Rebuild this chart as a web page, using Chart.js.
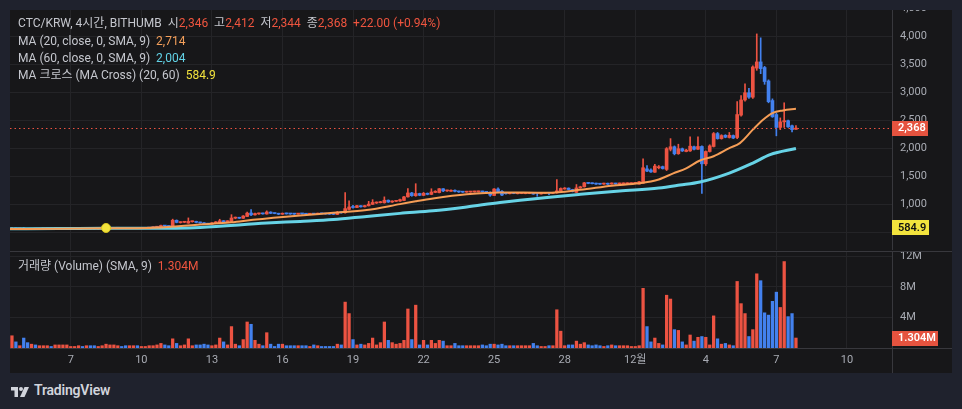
<!DOCTYPE html>
<html><head><meta charset="utf-8">
<script src="https://cdn.jsdelivr.net/npm/chart.js@4.4.1/dist/chart.umd.min.js"></script>
<style>
html,body{margin:0;padding:0;background:#1f222d;width:962px;height:409px;overflow:hidden;font-family:Roboto,"Noto Sans CJK KR",sans-serif;}
#panel{position:absolute;left:10px;top:10px;width:942px;height:363px;background:#171719;}
canvas{position:absolute;}
#pc{left:10px;top:10px;}
#vc{left:10px;top:251px;}
.leg{position:absolute;left:18px;font-size:12px;color:#c5c7ce;white-space:pre;line-height:17px;}
.r{color:#f0553f}.o{color:#f5a05b}.c{color:#62d2e6}.y{color:#f2e33d}
#logo{position:absolute;left:10px;top:382px;height:18px;}
#logo span{position:absolute;left:24px;top:0px;font-size:14px;font-weight:600;color:#d1d4dc;letter-spacing:-0.2px;white-space:nowrap;}
</style></head>
<body>
<div id="panel"></div>
<canvas id="pc" width="942" height="240" style="width:942px;height:240px"></canvas>
<canvas id="vc" width="942" height="122" style="width:942px;height:122px"></canvas>
<div class="leg" style="top:15px">CTC/KRW, 4시간, BITHUMB  시<span class="r">2,346</span>  고<span class="r">2,412</span>  저<span class="r">2,344</span>  종<span class="r">2,368</span>  <span class="r">+22.00 (+0.94%)</span></div>
<div class="leg" style="top:33px">MA (20, close, 0, SMA, 9)  <span class="o">2,714</span></div>
<div class="leg" style="top:50px">MA (60, close, 0, SMA, 9)  <span class="c">2,004</span></div>
<div class="leg" style="top:67px">MA 크로스 (MA Cross) (20, 60)  <span class="y">584.9</span></div>
<div class="leg" style="top:258px">거래량 (Volume) (SMA, 9)  <span class="r">1.304M</span></div>
<div id="logo"><svg width="20" height="14" viewBox="0 0 36 28" style="position:absolute;left:0;top:3px"><path fill="#d1d4dc" d="M0 4h14v20H7V11H0z"/><circle fill="#d1d4dc" cx="20" cy="8" r="4"/><path fill="#d1d4dc" d="M27 4h9l-9 20h-9z"/></svg><span>TradingView</span></div>
<script>
// ---- data (4h candles, index 0 = Nov 4 12:00) ----
const openP = [562,580,568,574,565,560,570,563,571,570,576,571,574,573,572,574,572,572,577,570,575,569,566,568,570,576,578,579,582,578,574,576,581,576,578,583,590,598,606,628,618,622,722,680,686,672,696,702,684,676,662,654,672,680,712,696,700,760,772,758,790,852,818,836,846,834,868,846,842,830,846,840,838,832,844,836,830,842,832,846,838,834,830,826,866,856,916,962,950,982,962,980,1006,1030,1036,1034,1080,1048,1060,1066,1076,1140,1210,1160,1200,1166,1204,1184,1220,1216,1285,1246,1240,1258,1238,1228,1224,1226,1228,1230,1238,1228,1220,1164,1280,1240,1200,1196,1208,1196,1200,1198,1200,1216,1206,1192,1200,1210,1204,1212,1250,1280,1296,1270,1220,1300,1320,1390,1385,1380,1378,1368,1382,1370,1378,1370,1372,1374,1376,1380,1370,1385,1640,1620,1580,1660,1680,1630,1990,2035,1910,2000,1950,1960,2035,1990,2040,1730,1950,2040,2270,2180,2240,2200,2235,2200,2600,2870,3000,2920,3440,3550,3450,3210,2860,2610,2380,2480,2500,2410,2346];
const highP = [592,584,578,590,570,575,573,575,578,580,578,582,580,579,581,578,577,580,579,578,577,572,574,578,585,584,586,585,584,581,582,584,583,584,586,596,604,614,636,633,624,742,728,696,700,764,708,706,690,680,668,682,700,740,716,714,822,780,776,806,870,912,850,852,850,890,874,852,848,852,850,846,844,848,848,842,846,846,850,848,842,840,836,880,872,1215,1070,990,990,986,990,1060,1090,1050,1060,1140,1086,1070,1080,1100,1150,1290,1220,1375,1206,1220,1210,1285,1250,1290,1290,1262,1264,1264,1244,1234,1240,1240,1242,1244,1242,1232,1230,1290,1300,1250,1210,1214,1212,1220,1212,1216,1222,1220,1210,1206,1212,1214,1216,1450,1300,1306,1300,1276,1360,1330,1400,1396,1392,1386,1382,1386,1386,1390,1384,1388,1390,1392,1392,1398,1416,1820,1700,1640,1720,1700,1690,2020,2180,2050,2080,2012,1990,2210,2046,2210,2050,1960,2070,2290,2290,2250,2250,2290,2245,2840,2950,3160,3080,3480,4050,3980,3470,3230,2890,2640,2550,2820,2510,2420,2412];
const lowP = [558,565,565,560,556,558,560,560,566,566,568,569,570,569,570,570,568,570,570,567,566,563,564,565,566,572,574,575,575,570,572,573,573,574,576,580,587,594,602,612,605,618,676,672,678,668,688,676,668,650,648,650,668,676,690,692,696,748,752,754,784,806,812,826,830,830,840,838,824,826,832,828,826,830,830,826,828,826,830,834,830,826,824,822,848,850,906,940,946,956,958,976,1000,1020,1030,1028,1040,1040,1052,1060,1070,1134,1150,1150,1160,1160,1176,1178,1214,1210,1232,1236,1236,1230,1220,1218,1220,1222,1224,1226,1222,1214,1150,1160,1220,1160,1190,1192,1196,1192,1196,1194,1196,1186,1150,1188,1196,1180,1198,1206,1244,1276,1262,1228,1216,1294,1314,1374,1370,1362,1360,1364,1360,1366,1364,1366,1368,1370,1372,1376,1366,1380,1590,1575,1576,1640,1636,1610,1960,1890,1900,1950,1944,1950,1980,1985,1200,1700,1940,2030,2170,2170,2195,2190,2180,2180,2580,2850,2900,2900,3400,3340,3150,2820,2560,2230,2340,2380,2380,2300,2344];
const closeP = [580,568,574,565,560,570,563,571,574,576,571,578,577,576,578,575,574,577,572,575,569,566,570,575,580,581,583,582,578,574,579,581,576,580,583,592,600,610,628,618,610,722,684,690,694,702,702,684,674,660,654,676,694,712,696,708,762,772,758,798,850,818,842,846,836,870,846,842,830,846,836,834,832,844,836,830,842,832,846,838,834,830,828,866,856,930,960,950,982,962,984,1010,1040,1044,1052,1080,1048,1062,1074,1090,1140,1210,1162,1200,1168,1204,1184,1226,1240,1285,1246,1256,1258,1238,1228,1224,1234,1236,1236,1238,1228,1220,1170,1280,1228,1172,1196,1208,1200,1214,1206,1210,1218,1190,1200,1202,1208,1204,1212,1248,1290,1296,1270,1236,1300,1320,1390,1380,1375,1368,1366,1380,1366,1382,1370,1382,1384,1386,1386,1394,1410,1660,1600,1585,1690,1672,1645,2000,2035,1910,2000,1960,1975,2045,1990,2040,1730,1950,2050,2270,2180,2235,2205,2240,2190,2610,2870,3000,2920,3460,3550,3430,3200,2840,2570,2380,2480,2500,2390,2340,2368];
const volumeM = [1.6,0.8,0.3,1.3,0.7,0.5,0.4,0.3,0.3,0.3,0.2,0.4,0.4,0.4,0.4,0.2,0.2,0.3,0.2,0.3,0.3,0.3,0.2,0.3,0.5,0.4,0.4,0.3,0.2,0.3,0.3,0.3,0.3,0.2,0.2,0.3,0.3,0.4,0.6,0.4,0.3,1.2,0.6,0.3,0.4,1.2,0.3,0.4,0.4,0.5,0.4,0.3,0.4,1.3,0.8,0.4,2.8,0.5,0.3,1.1,3.4,3.1,1.0,0.5,0.3,2.0,0.5,0.2,0.5,0.5,0.3,0.3,0.3,0.3,0.3,0.3,0.2,0.4,0.3,0.2,0.2,0.2,0.2,0.5,0.4,6.0,4.5,1.1,0.4,0.5,0.4,0.6,1.3,0.4,0.7,3.4,1.0,0.7,0.5,0.6,1.0,5.1,1.1,5.6,0.4,1.0,0.4,1.0,0.6,1.0,0.9,0.3,0.3,0.6,0.3,0.3,0.3,0.3,0.3,0.3,0.4,0.3,0.5,0.5,0.4,0.5,0.3,0.3,0.3,0.3,0.3,0.3,0.3,0.6,0.3,0.2,0.2,0.3,0.3,5.0,2.2,0.3,0.4,0.4,0.9,0.5,0.7,0.4,0.3,0.4,0.3,0.2,0.3,0.4,0.3,0.3,0.3,0.3,0.2,0.2,0.3,7.8,2.8,0.8,1.3,0.6,0.4,6.9,6.4,2.4,2.3,0.8,0.4,1.7,0.9,1.4,1.5,1.4,0.4,4.2,1.2,0.5,0.6,0.4,0.3,8.7,5.8,4.5,1.5,2.4,9.7,8.8,4.6,4.3,6.1,7.3,5.3,11.3,4.1,4.5,1.304];
// moving averages (candle index, value)
const ma20Idx = [-0.5,12,24,35,38,51,56,61.5,73.5,82,90.5,99,103,107.4,116,124.5,136.5,145,153,160,165,168.7,172,175.5,179,183,185.7,189,191.6,194,196.7,200];
const ma20Val = [566,570,580,585,595,660,685,730,808,855,905,1010,1060,1110,1185,1220,1212,1265,1340,1382,1450,1560,1650,1790,1865,2010,2100,2340,2518,2637,2684,2714];
const ma60Idx = [-0.5,12,24,35,48,65,73.5,82,90.5,99,107.4,116,124.5,136.5,145,155,165,170.4,175.5,183,189,193.4,200];
const ma60Val = [572,574,578,578,595,673,702,735,791,845,890,960,1040,1130,1185,1245,1298,1350,1405,1565,1744,1893,2004];
const crossIdx = 24, crossVal = 584.9;
const lastPrice = 2368, lastVolume = 1.304;
const tickIdx = [15,33,51,69,87,105,123,141,159,177,195,213];
const tickLabels = ['7','10','13','16','19','22','25','28','12월','4','7','10'];
const priceTicks = [500,1000,1500,2000,2500,3000,3500,4000,4500];
const volTicks = [4,8,12];

// ---- styles ----
const RED='#ec5342', BLUE='#4381ee', ORANGE='#f59d56', CYAN='#67d3e6', YELLOW='#f2e33d';
const GRID='#242427', SEP='#38383d', TXT='#a9acb4';
const FONT='Roboto, "Noto Sans CJK KR", sans-serif';
Chart.defaults.animation=false;
Chart.defaults.font.family=FONT;

const colors = closeP.map((c,i)=> c>=openP[i] ? RED : BLUE);
const wicks = closeP.map((c,i)=>({x:i, y:[lowP[i], highP[i]]}));
const bodies = closeP.map((c,i)=>({x:i, y:[openP[i], c]}));
const vols = volumeM.map((v,i)=>({x:i, y:v}));
const pts = (ix,vs)=> ix.map((x,k)=>({x, y:vs[k]}));

const noPad = s => { s.paddingTop=0; s.paddingBottom=0; s.paddingLeft=0; s.paddingRight=0; };
const xBase = {type:'linear', min:-0.5, max:224.5, offset:false,
  grid:{color:GRID, drawTicks:false, offset:false}, border:{display:false},
  afterBuildTicks:s=>{ s.ticks = tickIdx.map(v=>({value:v})); }};

function box(ctx, x, y, w, h, bg, fg, text){
  ctx.save(); ctx.fillStyle=bg; ctx.fillRect(x, Math.round(y-h/2), w, h);
  ctx.fillStyle=fg; ctx.font='600 11px '+FONT; ctx.textBaseline='middle'; ctx.textAlign='left';
  ctx.fillText(text, x+6, Math.round(y)+0.5); ctx.restore();
}

new Chart(document.getElementById('pc'), {
  type:'bar',
  data:{datasets:[
    {type:'line', data:[{x:crossIdx,y:crossVal}], showLine:false, pointRadius:4.5, pointBackgroundColor:YELLOW, pointBorderColor:'#d9c51e', pointBorderWidth:1, order:0},
    {type:'line', data:pts(ma20Idx,ma20Val), borderColor:ORANGE, borderWidth:2, pointRadius:0, cubicInterpolationMode:'monotone', order:1},
    {type:'line', data:pts(ma60Idx,ma60Val), borderColor:CYAN, borderWidth:3, pointRadius:0, cubicInterpolationMode:'monotone', order:2},
    {data:bodies, backgroundColor:colors, barThickness:3, minBarLength:1, grouped:false, order:3},
    {data:wicks, backgroundColor:colors, barThickness:1, grouped:false, order:4}
  ]},
  options:{responsive:false, layout:{padding:0, autoPadding:false},
    plugins:{legend:{display:false}, tooltip:{enabled:false}},
    scales:{
      x:Object.assign({}, xBase, {ticks:{display:false}, afterFit:s=>{s.height=0; noPad(s);}}),
      y:{position:'right', min:191, max:4477, grid:{color:GRID, drawTicks:false}, border:{display:true, color:SEP},
         ticks:{color:TXT, font:{size:11}, padding:8, callback:v=>v.toLocaleString('en-US')},
         afterBuildTicks:s=>{ s.ticks = priceTicks.map(v=>({value:v})); }, afterFit:s=>{s.width=60; noPad(s);}}
    }},
  plugins:[{id:'pricemarks', afterDraw(chart){
    const {ctx, chartArea:a, scales:{y}} = chart;
    const py = Math.round(y.getPixelForValue(lastPrice))+0.5;
    ctx.save(); ctx.strokeStyle=RED; ctx.lineWidth=1; ctx.setLineDash([1.5,3]);
    ctx.beginPath(); ctx.moveTo(a.left, py); ctx.lineTo(a.right, py); ctx.stroke(); ctx.restore();
    box(ctx, a.right, y.getPixelForValue(lastPrice), 36, 15, '#e5533f', '#ffffff', lastPrice.toLocaleString('en-US'));
    box(ctx, a.right, y.getPixelForValue(crossVal), 37, 15, YELLOW, '#111111', String(crossVal));
  }}]
});

new Chart(document.getElementById('vc'), {
  type:'bar',
  data:{datasets:[{data:vols, backgroundColor:colors, barThickness:2.6, grouped:false}]},
  options:{responsive:false, layout:{padding:{top:1}, autoPadding:false},
    plugins:{legend:{display:false}, tooltip:{enabled:false}},
    scales:{
      x:Object.assign({}, xBase, {ticks:{color:TXT, font:{size:11}, padding:6, autoSkip:false, maxRotation:0,
          callback:v=>{ const k=tickIdx.indexOf(v); return k>=0?tickLabels[k]:''; }},
          afterFit:s=>{s.height=25; noPad(s);}}),
      y:{position:'right', min:0, max:12.55, grid:{color:GRID, drawTicks:false}, border:{display:true, color:SEP},
         ticks:{color:TXT, font:{size:11}, padding:8, callback:v=>v+'M'},
         afterBuildTicks:s=>{ s.ticks = volTicks.map(v=>({value:v})); }, afterFit:s=>{s.width=60; noPad(s);}}
    }},
  plugins:[{id:'volmarks', afterDraw(chart){
    const {ctx, chartArea:a, scales:{y}, width, height} = chart;
    ctx.save(); ctx.strokeStyle=SEP; ctx.lineWidth=1;
    ctx.beginPath();
    ctx.moveTo(0,0.5); ctx.lineTo(width,0.5);
    ctx.moveTo(0,Math.round(a.bottom)+0.5); ctx.lineTo(width,Math.round(a.bottom)+0.5);
    ctx.moveTo(Math.round(a.right)+0.5,0); ctx.lineTo(Math.round(a.right)+0.5,height);
    ctx.stroke(); ctx.restore();
    box(ctx, a.right, y.getPixelForValue(lastVolume), 46, 15, '#e5533f', '#ffffff', lastVolume.toFixed(3)+'M');
  }}]
});
</script>
</body></html>
